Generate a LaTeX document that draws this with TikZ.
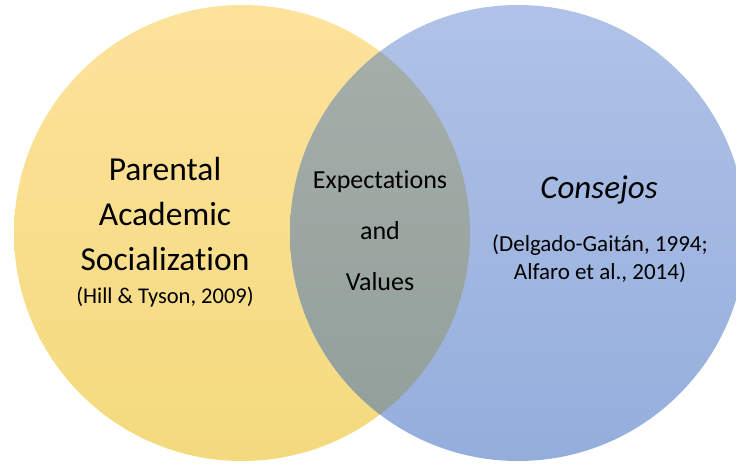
\documentclass[tikz,border=0pt]{standalone}
\usepackage{fontspec}
\setmainfont{Carlito}[Ligatures=NoCommon]
\usetikzlibrary{positioning}

\definecolor{yeltop}{HTML}{FDE29C}
\definecolor{yelbot}{HTML}{F4DA7D}
\definecolor{blutop}{HTML}{B0C2E7}
\definecolor{blubot}{HTML}{94AEDC}
\definecolor{midtop}{HTML}{A8AFAB}
\definecolor{midbot}{HTML}{909E99}

\begin{document}
\begin{tikzpicture}[x=1pt,y=-1pt]
\tikzset{every node/.style={align=center,text=black,inner sep=0pt}}
\useasboundingbox (0,0) rectangle (736,465);
\clip (0,0) rectangle (736,465);
% the two sets
\shade[top color=yeltop,bottom color=yelbot] (242,233) circle (228);
\shade[top color=blutop,bottom color=blubot] (518,233) circle (228);
% overlap
\begin{scope}
\clip (242,233) circle (228);
\shade[top color=midtop,bottom color=midbot] (518,233) circle (228);
\end{scope}
% labels
\node[font={\fontsize{33.5}{45}\selectfont}] (parental) at (165,214) {Parental\\Academic\\Socialization};
\node[font={\fontsize{22.5}{26}\selectfont}] (hill) at (165,297) {(Hill \& Tyson, 2009)};
\node[font={\fontsize{26}{51}\selectfont}] (expect) at (380,231) {Expectations\\and\\Values};
\node[font={\fontsize{33}{36}\selectfont\itshape}] (consejos) at (599,190) {Consejos};
\node[font={\fontsize{23}{28}\selectfont}] (delgado) at (600,259) {(Delgado-Gaitán, 1994;\\Alfaro et al., 2014)};
\end{tikzpicture}
\end{document}
